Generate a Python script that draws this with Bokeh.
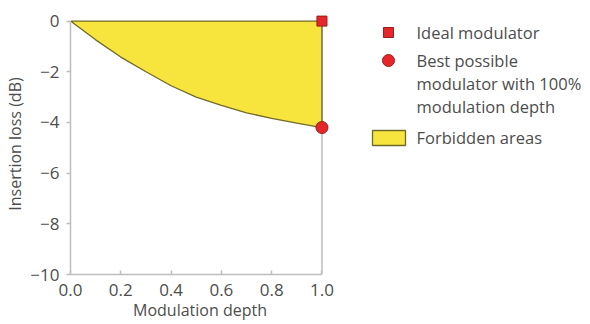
from bokeh.plotting import figure
from bokeh.layouts import row
from bokeh.models import FixedTicker, Range1d
from bokeh.core.properties import value
from bokeh.embed import file_html
from bokeh.resources import INLINE

# data
depth = [0.0, 0.1, 0.2, 0.3, 0.4, 0.5, 0.6, 0.7, 0.8, 0.9, 1.0]
loss = [0.0, -0.74, -1.42, -2.0, -2.55, -3.0, -3.33, -3.62, -3.84, -4.03, -4.2]
ideal_x, ideal_y = [1.0], [0.0]
best_x, best_y = [1.0], [-4.2]
x_ticks = [0.0, 0.2, 0.4, 0.6, 0.8, 1.0]
x_tick_labels = ["0.0", "0.2", "0.4", "0.6", "0.8", "1.0"]
y_ticks = [0, -2, -4, -6, -8, -10]
y_tick_labels = ["0", "\u22122", "\u22124", "\u22126", "\u22128", "\u221210"]
legend_labels = ["Ideal modulator", "Best possible\nmodulator with 100%\nmodulation depth", "Forbidden areas"]

FONT = "Open Sans"
TXT = "#4d4d4d"
AX = "#bdbdbd"
YEL = "#f7e43c"
EDGE = "#6f6a2c"
RED = "#e5262b"
DRED = "#9a1c1c"

TOP, BOTTOM = 13, 50

p = figure(width=340, height=324, output_backend="svg", toolbar_location=None,
           x_range=Range1d(0, 1.03), y_range=Range1d(-10, 0.3),
           min_border_left=70, min_border_right=11, min_border_top=TOP, min_border_bottom=BOTTOM)
p.outline_line_color = None
p.grid.visible = False

# forbidden area
p.patch(x=depth + [depth[-1]], y=loss + [0.0], fill_color=YEL, line_color=None)
# right edge line at x = 1
p.segment(x0=[x_ticks[-1]], y0=[y_ticks[0]], x1=[x_ticks[-1]], y1=[y_ticks[-1]], line_color=AX, line_width=1.5)
p.patch(x=depth + [depth[-1]], y=loss + [0.0], fill_color=None, line_color=EDGE, line_width=1.3)
p.scatter(ideal_x, ideal_y, marker="square", size=10, fill_color=RED, line_color=DRED, line_width=1)
p.scatter(best_x, best_y, marker="circle", size=12, fill_color=RED, line_color=DRED, line_width=1)

p.xaxis.ticker = FixedTicker(ticks=x_ticks)
p.xaxis.major_label_overrides = {t: l for t, l in zip(x_ticks, x_tick_labels)}
p.yaxis.ticker = FixedTicker(ticks=y_ticks)
p.yaxis.major_label_overrides = {t: l for t, l in zip(y_ticks, y_tick_labels)}
p.xaxis.bounds = (x_ticks[0], x_ticks[-1])
p.yaxis.bounds = (y_ticks[-1], y_ticks[0])
p.xaxis.axis_label = "Modulation depth"
p.yaxis.axis_label = "Insertion loss (dB)"
for ax in (p.xaxis, p.yaxis):
    ax.axis_line_color = AX
    ax.axis_line_width = 1.5
    ax.major_tick_line_color = AX
    ax.major_tick_line_width = 1.5
    ax.minor_tick_line_color = None
    ax.major_label_text_font = FONT
    ax.major_label_text_font_size = "17px"
    ax.major_label_text_color = TXT
    ax.axis_label_text_font = FONT
    ax.axis_label_text_font_size = "16px"
    ax.axis_label_text_color = TXT
    ax.axis_label_text_font_style = "normal"
p.xaxis.major_tick_in = 4
p.xaxis.major_tick_out = 0
p.yaxis.major_tick_in = 0
p.yaxis.major_tick_out = 4
p.xaxis.major_label_standoff = 9
p.yaxis.major_label_standoff = 7
p.xaxis.axis_label_standoff = 0
p.yaxis.axis_label_standoff = 1

# legend panel (pixel-like coordinates; frame aligned with the main frame)
leg = figure(width=250, height=324, output_backend="svg", toolbar_location=None,
             x_range=Range1d(0, 250), y_range=Range1d(324 - BOTTOM, TOP),
             min_border_left=0, min_border_right=0, min_border_top=TOP, min_border_bottom=BOTTOM)
leg.axis.visible = False
leg.grid.visible = False
leg.outline_line_color = None

mx = 48
tx = 76
row_y = [32, 60, 137]
line_h = 23
leg.scatter([mx], [row_y[0]], marker="square", size=10, fill_color=RED, line_color=DRED, line_width=1)
leg.scatter([mx], [row_y[1]], marker="circle", size=12, fill_color=RED, line_color=DRED, line_width=1)
leg.quad(left=[mx - 16], right=[mx + 17], top=[row_y[2] - 7], bottom=[row_y[2] + 8],
         fill_color=YEL, line_color=EDGE, line_width=1.3)

tx_list, ty_list, tt_list = [], [], []
for y0, lab in zip(row_y, legend_labels):
    for i, ln in enumerate(lab.split("\n")):
        tx_list.append(tx)
        ty_list.append(y0 + i * line_h)
        tt_list.append(ln)
leg.text(x=tx_list, y=ty_list, text=tt_list, text_font=value(FONT), text_font_size="16.5px",
         text_color=TXT, text_baseline="middle", text_align="left")

layout = row(p, leg)
open("out.html", "w").write(file_html(layout, INLINE))
